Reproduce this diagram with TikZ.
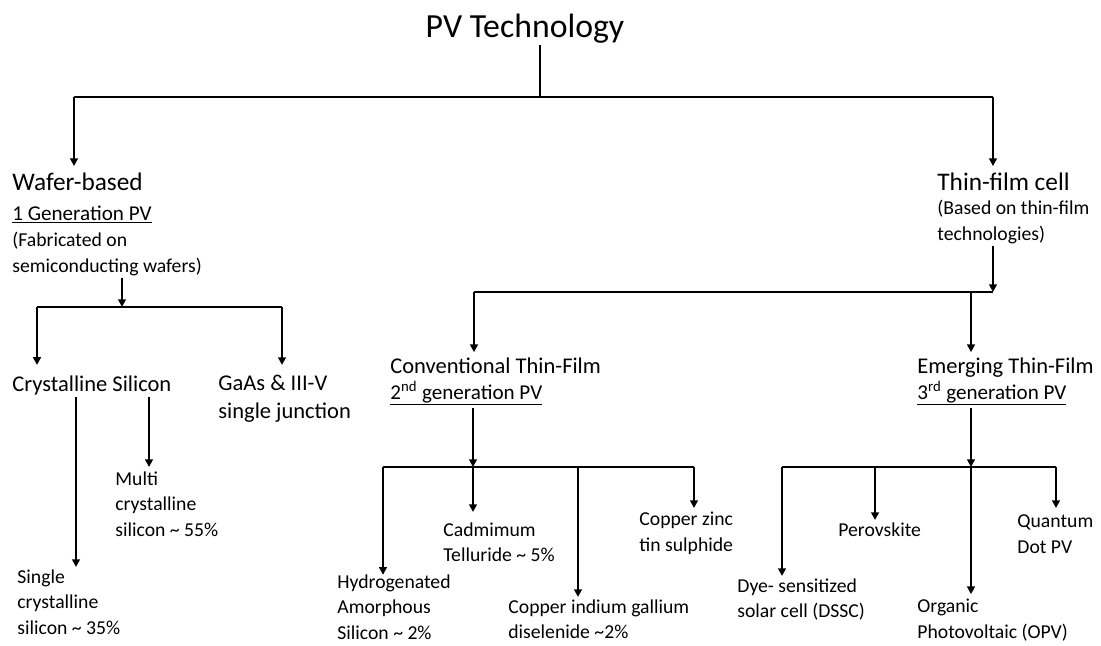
\documentclass[tikz,border=0pt]{standalone}
\usepackage{fontspec}
\setmainfont{Carlito}
\usetikzlibrary{arrows.meta}

\begin{document}
\begin{tikzpicture}[
    x=0.025cm, y=-0.025cm,
    link/.style={line width=2pt},
    flow/.style={line width=2pt, -{Triangle[length=5.5pt,width=5.5pt]}},
    root/.style={font=\fontsize{24}{29}\selectfont, inner sep=1.5pt},
    head/.style={font=\fontsize{18}{22}\selectfont, inner sep=1.5pt},
    kind/.style={font=\fontsize{16}{20}\selectfont, align=left, inner sep=1.5pt},
    gen/.style={font=\fontsize{15}{18}\selectfont, inner sep=1.5pt},
    leaf/.style={font=\fontsize{14}{18.4}\selectfont, align=left, inner sep=1.5pt}
]
\useasboundingbox (0,0) rectangle (1101,646);

% Root
\node[root, anchor=base] (pv) at (525,37) {PV Technology};
\coordinate (stem) at (540,97);
\coordinate (bw) at (74,97);
\coordinate (bt) at (993,97);
\draw[link] (stem |- pv.south) -- (stem);
\draw[link] (bw) -- (bt);

% Wafer-based branch
\node[head, anchor=base west] (wafer) at (10,190) {Wafer-based};
\node[gen, anchor=base west] (wafergen) at (10,220) {\underline{1 Generation PV}};
\node[leaf, anchor=north west] (waferdesc) at (10,230) {(Fabricated on\\semiconducting wafers)};
\draw[flow, shorten >=2.8pt] (bw) -- (bw |- wafer.north);

% Thin-film branch
\node[head, anchor=base west] (thin) at (935,190) {Thin-film cell};
\node[leaf, anchor=north west] (thindesc) at (935,198) {(Based on thin-film\\technologies)};
\draw[flow, shorten >=2.8pt] (bt) -- (bt |- thin.north);

% Wafer sub-tree
\coordinate (wj) at (122,307);
\coordinate (cl) at (37,307);
\coordinate (cr) at (282,307);
\draw[flow] (wj |- waferdesc.south) -- (wj);
\draw[link] (cl) -- (cr);
\node[kind, anchor=base west] (crys) at (10,391) {Crystalline Silicon};
\node[kind, anchor=north west] (gaas) at (216,373) {GaAs \& III-V\\single junction};
\draw[flow, shorten >=5.7pt] (cl) -- (cl |- crys.north);
\draw[flow, shorten >=5.7pt] (cr) -- (cr |- gaas.north);

\node[leaf, anchor=north west] (multi) at (113,469) {Multi\\crystalline\\silicon \textasciitilde{} 55\%};
\node[leaf, anchor=north west] (single) at (15,567) {Single\\crystalline\\silicon \textasciitilde{} 35\%};
\coordinate (sx) at (76,400);
\coordinate (mx) at (149,400);
\draw[flow] (sx |- crys.south) -- (sx |- single.north);
\draw[flow, shorten >=1.4pt] (mx |- crys.south) -- (mx |- multi.north);

% Thin-film sub-tree
\coordinate (tj) at (993,292);
\coordinate (cjl) at (474,292);
\coordinate (ej) at (971,292);
\draw[flow] (tj |- thindesc.south) -- (tj);
\draw[link] (cjl) -- (tj);
\node[kind, anchor=base west] (conv) at (388,373) {Conventional Thin-Film};
\node[gen, anchor=base west] (convgen) at (388,399) {\underline{2\textsuperscript{nd} generation PV}};
\node[kind, anchor=base west] (emer) at (915,373) {Emerging Thin-Film};
\node[gen, anchor=base west] (emergen) at (915,399) {\underline{3\textsuperscript{rd} generation PV}};
\draw[flow, shorten >=2pt] (cjl) -- (cjl |- conv.north);
\draw[flow, shorten >=2pt] (ej) -- (ej |- emer.north);

% Conventional leaves
\coordinate (cj) at (473,467);
\coordinate (hj) at (383,467);
\coordinate (gj) at (578,467);
\coordinate (zj) at (694,467);
\draw[flow] (cj |- convgen.south) -- (cj);
\draw[link] (hj) -- (zj);
\node[leaf, anchor=north west] (hyd) at (335,572) {Hydrogenated\\Amorphous\\Silicon \textasciitilde{} 2\%};
\node[leaf, anchor=north west] (cdte) at (441,520) {Cadmimum\\Telluride \textasciitilde{} 5\%};
\node[leaf, anchor=north west] (cigs) at (506,597) {Copper indium gallium\\diselenide \textasciitilde2\%};
\node[leaf, anchor=north west] (czts) at (637,510) {Copper zinc\\tin sulphide};
\draw[flow, shorten >=-2pt] (hj) -- (hj |- hyd.north);
\draw[flow, shorten >=5.7pt] (cj) -- (cj |- cdte.north);
\draw[flow] (gj) -- (gj |- cigs.north);
\draw[flow, shorten >=1.4pt] (zj) -- (zj |- czts.north);

% Emerging leaves
\coordinate (oj) at (971,467);
\coordinate (dj) at (782,467);
\coordinate (pj) at (875,467);
\coordinate (qj) at (1056,467);
\draw[flow] (oj |- emergen.south) -- (oj);
\draw[link] (dj) -- (qj);
\node[leaf, anchor=north west] (dssc) at (735,576) {Dye- sensitized\\solar cell (DSSC)};
\node[leaf, anchor=north west] (perov) at (836,520) {Perovskite};
\node[leaf, anchor=north west] (opv) at (915,597) {Organic\\Photovoltaic (OPV)};
\node[leaf, anchor=north west] (qdpv) at (1015,512) {Quantum\\Dot PV};
\draw[flow] (dj) -- (dj |- dssc.north);
\draw[flow] (pj) -- (pj |- perov.north);
\draw[flow, shorten >=2pt] (oj) -- (oj |- opv.north);
\draw[flow, shorten >=2.8pt] (qj) -- (qj |- qdpv.north);
\end{tikzpicture}
\end{document}
